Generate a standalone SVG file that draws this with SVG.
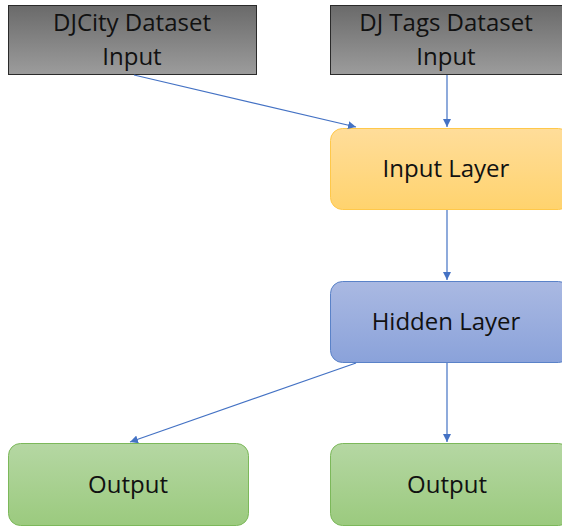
<svg xmlns="http://www.w3.org/2000/svg" width="562" height="527" viewBox="0 0 562 527">
<defs>
<linearGradient id="gGrey" x1="0" y1="0" x2="0" y2="1"><stop offset="0" stop-color="#6a6a6a"/><stop offset="1" stop-color="#9c9c9c"/></linearGradient>
<linearGradient id="gYellow" x1="0" y1="0" x2="0" y2="1"><stop offset="0" stop-color="#ffdd9a"/><stop offset="1" stop-color="#ffd36e"/></linearGradient>
<linearGradient id="gBlue" x1="0" y1="0" x2="0" y2="1"><stop offset="0" stop-color="#aab9e2"/><stop offset="1" stop-color="#8aa2da"/></linearGradient>
<linearGradient id="gGreen" x1="0" y1="0" x2="0" y2="1"><stop offset="0" stop-color="#b5d7a3"/><stop offset="1" stop-color="#9bca7e"/></linearGradient>
<marker id="arr" viewBox="0 0 10 10" refX="10" refY="5" markerWidth="8" markerHeight="8" markerUnits="userSpaceOnUse" orient="auto"><path d="M0,0 L10,5 L0,10 z" fill="#4472c4"/></marker>
</defs>
<style>
text{font-family:"Open Sans","Noto Sans","Liberation Sans",sans-serif;font-size:24px;fill:#111;text-anchor:middle}
.grey{fill:url(#gGrey);stroke:#2a2a2a;stroke-width:1}
.yellow{fill:url(#gYellow);stroke:#ffc84a;stroke-width:1}
.blue{fill:url(#gBlue);stroke:#5a82c8;stroke-width:1}
.green{fill:url(#gGreen);stroke:#7cb85a;stroke-width:1}
.conn line{stroke:#4472c4;stroke-width:1.2;marker-end:url(#arr)}
</style>
<g id="djcity"><rect class="grey" x="8.5" y="5.5" width="248" height="69"/><text x="132" y="31">DJCity Dataset</text><text x="132" y="65">Input</text></g>
<g id="djtags"><rect class="grey" x="330.5" y="5.5" width="240" height="69"/><text x="446" y="31">DJ Tags Dataset</text><text x="446" y="65">Input</text></g>
<g id="inputlayer"><rect class="yellow" x="330.5" y="128.5" width="240" height="81" rx="12"/><text x="446" y="177">Input Layer</text></g>
<g id="hiddenlayer"><rect class="blue" x="330.5" y="281.5" width="240" height="81" rx="12"/><text x="446" y="330">Hidden Layer</text></g>
<g id="output1"><rect class="green" x="8.5" y="443.5" width="240" height="82" rx="12"/><text x="128" y="493">Output</text></g>
<g id="output2"><rect class="green" x="330.5" y="443.5" width="240" height="82" rx="12"/><text x="447" y="493">Output</text></g>
<g class="conn">
<line x1="134" y1="75" x2="356" y2="127"/>
<line x1="447" y1="75" x2="447" y2="127"/>
<line x1="447" y1="210" x2="447" y2="280"/>
<line x1="356" y1="363" x2="130" y2="442"/>
<line x1="447" y1="363" x2="447" y2="442"/>
</g>
</svg>
